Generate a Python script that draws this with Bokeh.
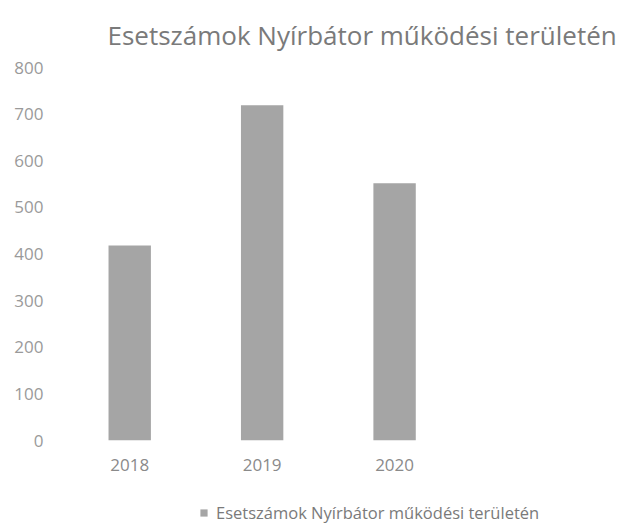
from bokeh.plotting import figure
from bokeh.layouts import column
from bokeh.models import Range1d, FixedTicker, Legend, LegendItem, ColumnDataSource
from bokeh.embed import file_html
from bokeh.resources import INLINE

years = ["2018", "2019", "2020"]
counts = [418, 719, 552]
y_ticks = [0, 100, 200, 300, 400, 500, 600, 700, 800]
title_text = "Esetszámok Nyírbátor működési területén"
series_name = "Esetszámok Nyírbátor működési területén"

xs = list(range(len(years)))
src = ColumnDataSource(dict(x=xs, top=counts, year=years))

FONT = "Open Sans"
BAR_COLOR = "#a5a5a5"
W = 625

p = figure(width=W, height=480, output_backend="svg", toolbar_location=None,
           x_range=Range1d(-0.5, 3.57), y_range=Range1d(0, 800),
           min_border_left=63, min_border_right=23, min_border_top=65,
           min_border_bottom=40)

bars = p.vbar(x="x", top="top", width=0.32, source=src,
              fill_color=BAR_COLOR, line_color=None)

p.title.text = title_text
p.title.text_font = FONT
p.title.text_font_size = "26px"
p.title.text_font_style = "normal"
p.title.text_color = "#7a7a7a"
p.title.align = "left"
p.title.offset = 44
p.title.standoff = 29

p.xgrid.visible = False
p.ygrid.visible = False
p.outline_line_color = None

ya = p.yaxis[0]
ya.ticker = FixedTicker(ticks=y_ticks)
ya.axis_line_color = None
ya.major_tick_line_color = None
ya.minor_tick_line_color = None
ya.major_tick_out = 0
ya.major_tick_in = 0
ya.major_label_standoff = 20
ya.major_label_text_font = FONT
ya.major_label_text_font_size = "17px"
ya.major_label_text_color = "#9a9a9a"

xa = p.xaxis[0]
xa.ticker = FixedTicker(ticks=xs)
xa.major_label_overrides = {i: y for i, y in zip(xs, years)}
xa.axis_line_color = None
xa.major_tick_line_color = None
xa.minor_tick_line_color = None
xa.major_tick_out = 0
xa.major_tick_in = 0
xa.major_label_standoff = 18
xa.major_label_text_font = FONT
xa.major_label_text_font_size = "17px"
xa.major_label_text_color = "#8a8a8a"

# legend strip below the chart
p2 = figure(width=W, height=45, output_backend="svg", toolbar_location=None,
            x_range=Range1d(0, 1), y_range=Range1d(0, 1),
            x_axis_type=None, y_axis_type=None,
            min_border_left=0, min_border_right=0, min_border_top=0,
            min_border_bottom=0)
p2.xgrid.visible = False
p2.ygrid.visible = False
p2.outline_line_color = None
legend_bars = p2.vbar(x="x", top="top", width=0.32, source=src,
                      fill_color=BAR_COLOR, line_color=None, visible=False)

legend = Legend(items=[LegendItem(label=series_name, renderers=[legend_bars])],
                location=(136, 1), orientation="horizontal",
                border_line_color=None, background_fill_alpha=0,
                inactive_fill_alpha=0,
                padding=0, margin=0, glyph_width=9, glyph_height=9,
                label_height=16, label_standoff=8, label_text_font=FONT,
                label_text_font_size="16.5px", label_text_color="#7a7a7a")
p2.add_layout(legend, "center")

layout = column(p, p2, spacing=0)
open("out.html", "w").write(file_html(layout, INLINE))
